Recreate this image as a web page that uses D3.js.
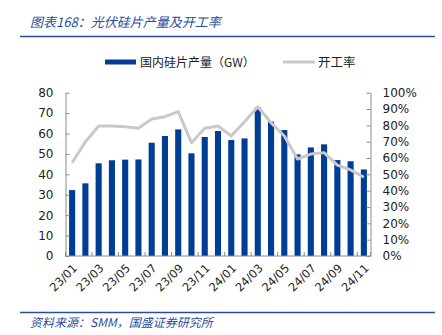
<!DOCTYPE html>
<html>
<head>
<meta charset="utf-8">
<script src="https://cdn.jsdelivr.net/npm/d3@7/dist/d3.min.js"></script>
<style>
  html, body { margin: 0; padding: 0; background: #fff; }
  svg { display: block; }
</style>
</head>
<body>
<svg id="chart" width="442" height="335"></svg>
<script>
// ---- data ----
const months = ["23/01","23/02","23/03","23/04","23/05","23/06","23/07","23/08","23/09","23/10","23/11","23/12",
                "24/01","24/02","24/03","24/04","24/05","24/06","24/07","24/08","24/09","24/10","24/11"];
const output = [32.3, 35.6, 45.4, 46.9, 47.2, 47.3, 55.5, 58.8, 62.0, 50.3, 58.3, 61.2,
                56.8, 57.6, 72.8, 65.8, 61.7, 49.8, 53.2, 54.7, 47.0, 46.4, 42.4];
const rate = [0.571, 0.700, 0.796, 0.796, 0.792, 0.782, 0.839, 0.853, 0.884, 0.694, 0.782, 0.796,
              0.735, 0.822, 0.914, 0.816, 0.735, 0.594, 0.624, 0.633, 0.557, 0.527, 0.482];
const leftTicks = [0,10,20,30,40,50,60,70,80];
const rightTicks = [0,0.1,0.2,0.3,0.4,0.5,0.6,0.7,0.8,0.9,1.0];
const labelMonths = months.filter((m,i) => i % 2 === 0);
const titleText = "图表168：光伏硅片产量及开工率";
const sourceText = "资料来源：SMM，国盛证券研究所";
const legendBar = "国内硅片产量（GW）";
const legendLine = "开工率";

// ---- layout ----
const svg = d3.select("#chart");
const pL = 65.5, pR = 370.5, pT = 92.7, pB = 256;
const blue = "#003e96", gray = "#c9c9c9", axisColor = "#8c8c8c", accent = "#2a4d9b";
const font = "'DejaVu Sans', Verdana, sans-serif";
const cjk = "'Noto Sans CJK SC', sans-serif";

const x = d3.scaleBand().domain(months).range([pL, pR]).padding(0);
const yL = d3.scaleLinear().domain([0, 80]).range([pB, pT]);
const yR = d3.scaleLinear().domain([0, 1]).range([pB, pT]);
const bw = x.bandwidth();

// title
svg.append("text").attr("x", 30).attr("y", 27)
  .attr("font-family", cjk).attr("font-style", "italic").attr("font-size", 13)
  .attr("fill", accent).text(titleText);
svg.append("line").attr("x1", 20).attr("x2", 435).attr("y1", 36.5).attr("y2", 36.5)
  .attr("stroke", accent).attr("stroke-width", 1.6);

// legend
svg.append("rect").attr("x", 105).attr("y", 59.5).attr("width", 31).attr("height", 5).attr("fill", blue);
svg.append("text").attr("x", 140).attr("y", 66.5).attr("font-family", cjk).attr("font-size", 12)
  .attr("fill", "#222").text(legendBar);
svg.append("line").attr("x1", 283).attr("x2", 315).attr("y1", 62).attr("y2", 62)
  .attr("stroke", gray).attr("stroke-width", 3);
svg.append("text").attr("x", 318).attr("y", 66.5).attr("font-family", cjk).attr("font-size", 12.5)
  .attr("fill", "#222").text(legendLine);

// bars
svg.append("g").selectAll("rect").data(months).join("rect")
  .attr("x", d => x(d) + bw * 0.27)
  .attr("width", bw * 0.46)
  .attr("y", (d, i) => yL(output[i]))
  .attr("height", (d, i) => yL(0) - yL(output[i]))
  .attr("fill", blue);

// line
const line = d3.line().x((d, i) => x(months[i]) + bw / 2).y(d => yR(d));
svg.append("path").datum(rate).attr("d", line)
  .attr("fill", "none").attr("stroke", gray).attr("stroke-width", 3).attr("stroke-linejoin", "round");

// left axis
const gL = svg.append("g").attr("transform", `translate(${pL},0)`)
  .call(d3.axisLeft(yL).tickValues(leftTicks).tickSize(-4).tickPadding(12).tickSizeOuter(0));
// right axis
const gR = svg.append("g").attr("transform", `translate(${pR},0)`)
  .call(d3.axisRight(yR).tickValues(rightTicks).tickSize(-4).tickPadding(12).tickSizeOuter(0)
        .tickFormat(d3.format(".0%")));
// bottom axis (ticks every 2 months at band boundaries)
const gB = svg.append("g").attr("transform", `translate(0,${pB})`);
gB.append("line").attr("x1", pL).attr("x2", pR).attr("stroke", axisColor);
gB.selectAll("line.tk").data(months.filter((m, i) => i % 2 === 0).concat(["end"])).join("line")
  .attr("class", "tk")
  .attr("x1", d => d === "end" ? pR : x(d)).attr("x2", d => d === "end" ? pR : x(d))
  .attr("y1", 0).attr("y2", -4).attr("stroke", axisColor);
gB.selectAll("text").data(labelMonths).join("text")
  .attr("transform", d => `translate(${x(d) + bw / 2 + 3},${10}) rotate(-45)`)
  .attr("text-anchor", "end").attr("dy", "0.35em")
  .attr("font-family", font).attr("font-size", 11.5).attr("fill", "#222")
  .text(d => d);

[gL, gR].forEach(g => {
  g.select(".domain").attr("stroke", axisColor);
  g.selectAll(".tick line").attr("stroke", axisColor);
  g.selectAll(".tick text").attr("font-family", font).attr("font-size", 12).attr("fill", "#222");
});

// footer
svg.append("line").attr("x1", 20).attr("x2", 435).attr("y1", 312.5).attr("y2", 312.5)
  .attr("stroke", accent).attr("stroke-width", 1.3);
svg.append("text").attr("x", 30).attr("y", 327)
  .attr("font-family", cjk).attr("font-style", "italic").attr("font-size", 12)
  .attr("fill", accent).text(sourceText);
</script>
</body>
</html>
